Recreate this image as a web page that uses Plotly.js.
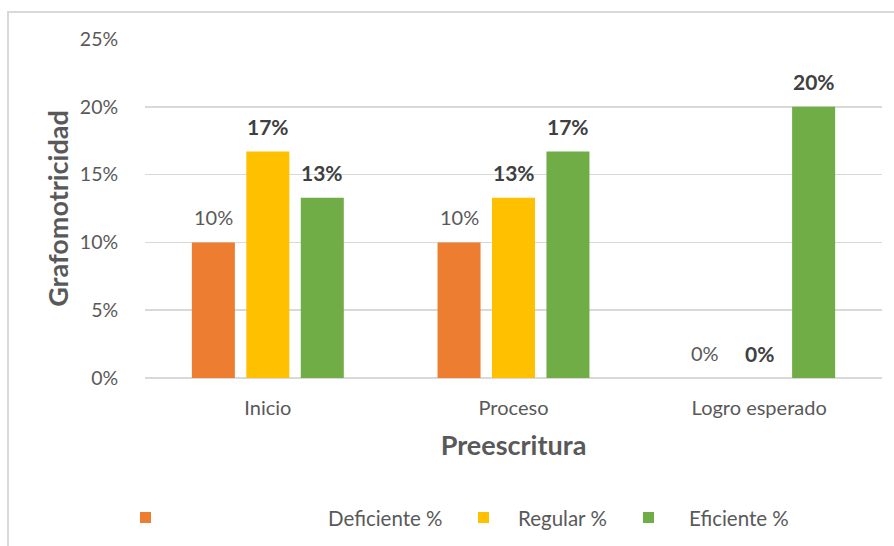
<!DOCTYPE html>
<html>
<head>
<meta charset="utf-8">
<script src="https://cdn.plot.ly/plotly-3.0.1.min.js"></script>
<style>html,body{margin:0;padding:0;background:#fff;}#chart{width:894px;height:546px;}</style>
</head>
<body>
<div id="chart"></div>
<script>
const categories = ["Inicio", "Proceso", "Logro esperado"];
const seriesNames = ["Deficiente %", "Regular %", "Eficiente %"];
const deficiente = [10, 10, 0];
const regular = [16.7, 13.3, 0];
const eficiente = [13.3, 16.7, 20];
const yTicks = [0, 5, 10, 15, 20, 25];
const colors = ["#ED7D31", "#FFC000", "#70AD47"];

const FONT = "Lato, 'Open Sans', sans-serif";
const W = 894, H = 546;
const L = 145, R = 882, T = 39, B = 378;
const px = x => (x - L) / (R - L);
const py = y => (B - y) / (B - T);

const series = [deficiente, regular, eficiente];
const bold = [false, true, true];
const BARGAP = 0.335, GROUPGAP = 0.21;
const slot = (1 - BARGAP) / 3; // category units per bar slot

const data = series.map((vals, i) => ({
  type: "bar", name: seriesNames[i], x: categories, y: vals,
  marker: {color: colors[i]},
  hoverinfo: "skip"
}));

const shapes = [
  {type: "rect", xref: "paper", yref: "paper", x0: px(8), x1: px(1000), y0: py(12), y1: py(700),
   line: {color: "#d9d9d9", width: 2}, fillcolor: "rgba(0,0,0,0)", layer: "below"}
];
const annotations = [];

// data labels above bars (placed at the data values)
series.forEach((vals, i) => {
  vals.forEach((v, j) => {
    annotations.push({
      xref: "x", yref: "y", x: j + (i - 1) * slot, y: v,
      text: Math.round(v) + "%", showarrow: false,
      xanchor: "center", yanchor: "middle", yshift: 25,
      font: bold[i] ? {family: FONT, size: 21, color: "#404040", weight: "bold"}
                    : {family: FONT, size: 20, color: "#595959"}
    });
  });
});

// legend
const legendMarkerX = [140, 478, 643];
const legendTextX = [326, 516, 687];
seriesNames.forEach((n, i) => {
  shapes.push({type: "rect", xref: "paper", yref: "paper",
    x0: px(legendMarkerX[i]), x1: px(legendMarkerX[i] + 11),
    y0: py(512), y1: py(523), fillcolor: colors[i], line: {width: 0}});
  annotations.push({xref: "paper", yref: "paper", x: px(legendTextX[i]), y: py(517.5),
    xanchor: "left", yanchor: "middle", showarrow: false, text: n,
    font: {family: FONT, size: 20.5, color: "#595959"}});
});

const layout = {
  width: W, height: H,
  margin: {l: L, r: W - R, t: T, b: H - B},
  paper_bgcolor: "#fff", plot_bgcolor: "#fff",
  showlegend: false,
  barmode: "group", bargap: BARGAP, bargroupgap: GROUPGAP,
  font: {family: FONT, color: "#595959"},
  xaxis: {
    type: "category",
    showgrid: false, zeroline: false, showline: false,
    ticks: "outside", ticklen: 12, tickcolor: "rgba(0,0,0,0)",
    tickfont: {family: FONT, size: 20, color: "#595959"},
    title: {text: "Preescritura", font: {family: FONT, size: 27, color: "#595959", weight: "bold"}, standoff: 18}
  },
  yaxis: {
    range: [0, 25], tickvals: yTicks, ticktext: yTicks.map(v => v + "%"),
    showgrid: true, gridcolor: "#d9d9d9", gridwidth: 1.5,
    zeroline: true, zerolinecolor: "#d9d9d9", zerolinewidth: 1.5,
    showline: false,
    ticks: "outside", ticklen: 22, tickcolor: "rgba(0,0,0,0)",
    tickfont: {family: FONT, size: 19.5, color: "#595959"},
    title: {text: "Grafomotricidad", font: {family: FONT, size: 27, color: "#595959", weight: "bold"}, standoff: 3}
  },
  shapes: shapes,
  annotations: annotations
};

Plotly.newPlot("chart", data, layout, {displayModeBar: false, staticPlot: true});
</script>
</body>
</html>
